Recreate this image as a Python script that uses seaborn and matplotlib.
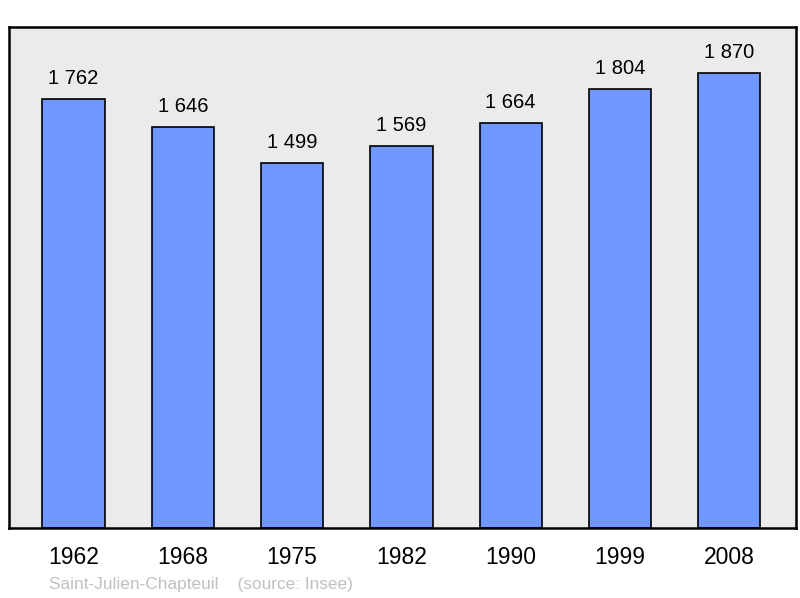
import matplotlib
matplotlib.use("Agg")
import matplotlib.pyplot as plt
import seaborn as sns
import pandas as pd

# data
years = ["1962", "1968", "1975", "1982", "1990", "1999", "2008"]
population = [1762, 1646, 1499, 1569, 1664, 1804, 1870]
value_labels = ["1 762", "1 646", "1 499", "1 569", "1 664", "1 804", "1 870"]
commune = "Saint-Julien-Chapteuil"
source = "(source: Insee)"

sns.set_style("white")
plt.rcParams["font.family"] = ["Liberation Sans", "DejaVu Sans"]

df = pd.DataFrame({"year": years, "pop": population})

fig = plt.figure(figsize=(8, 5.98), dpi=100)
ax = fig.add_axes([0.01125, 0.117, 0.98375, 0.838])
ax.set_facecolor("#ebebeb")

sns.barplot(data=df, x="year", y="pop", ax=ax, color="#7096ff",
            saturation=1, width=0.57, edgecolor="black", linewidth=1.2)

for i, (v, lab) in enumerate(zip(population, value_labels)):
    ax.annotate(lab, (i, v), xytext=(0, 8), textcoords="offset points",
                ha="center", va="bottom", fontsize=14.5, color="black")

ax.set_xlim(-0.59, 6.61)
ax.set_ylim(0, 2058)
ax.set_yticks([])
ax.set_xlabel("")
ax.set_ylabel("")
ax.tick_params(axis="x", length=0, labelsize=16.5, pad=13, labelcolor="black")
for s in ax.spines.values():
    s.set_visible(True)
    s.set_color("black")
    s.set_linewidth(1.8)

fig.text(49 / 800, 1 - 584 / 598, commune + "    " + source, color="#c0c0c0",
         fontsize=12.4, ha="left", va="center")

fig.savefig("out.png", dpi=100, facecolor="white")
